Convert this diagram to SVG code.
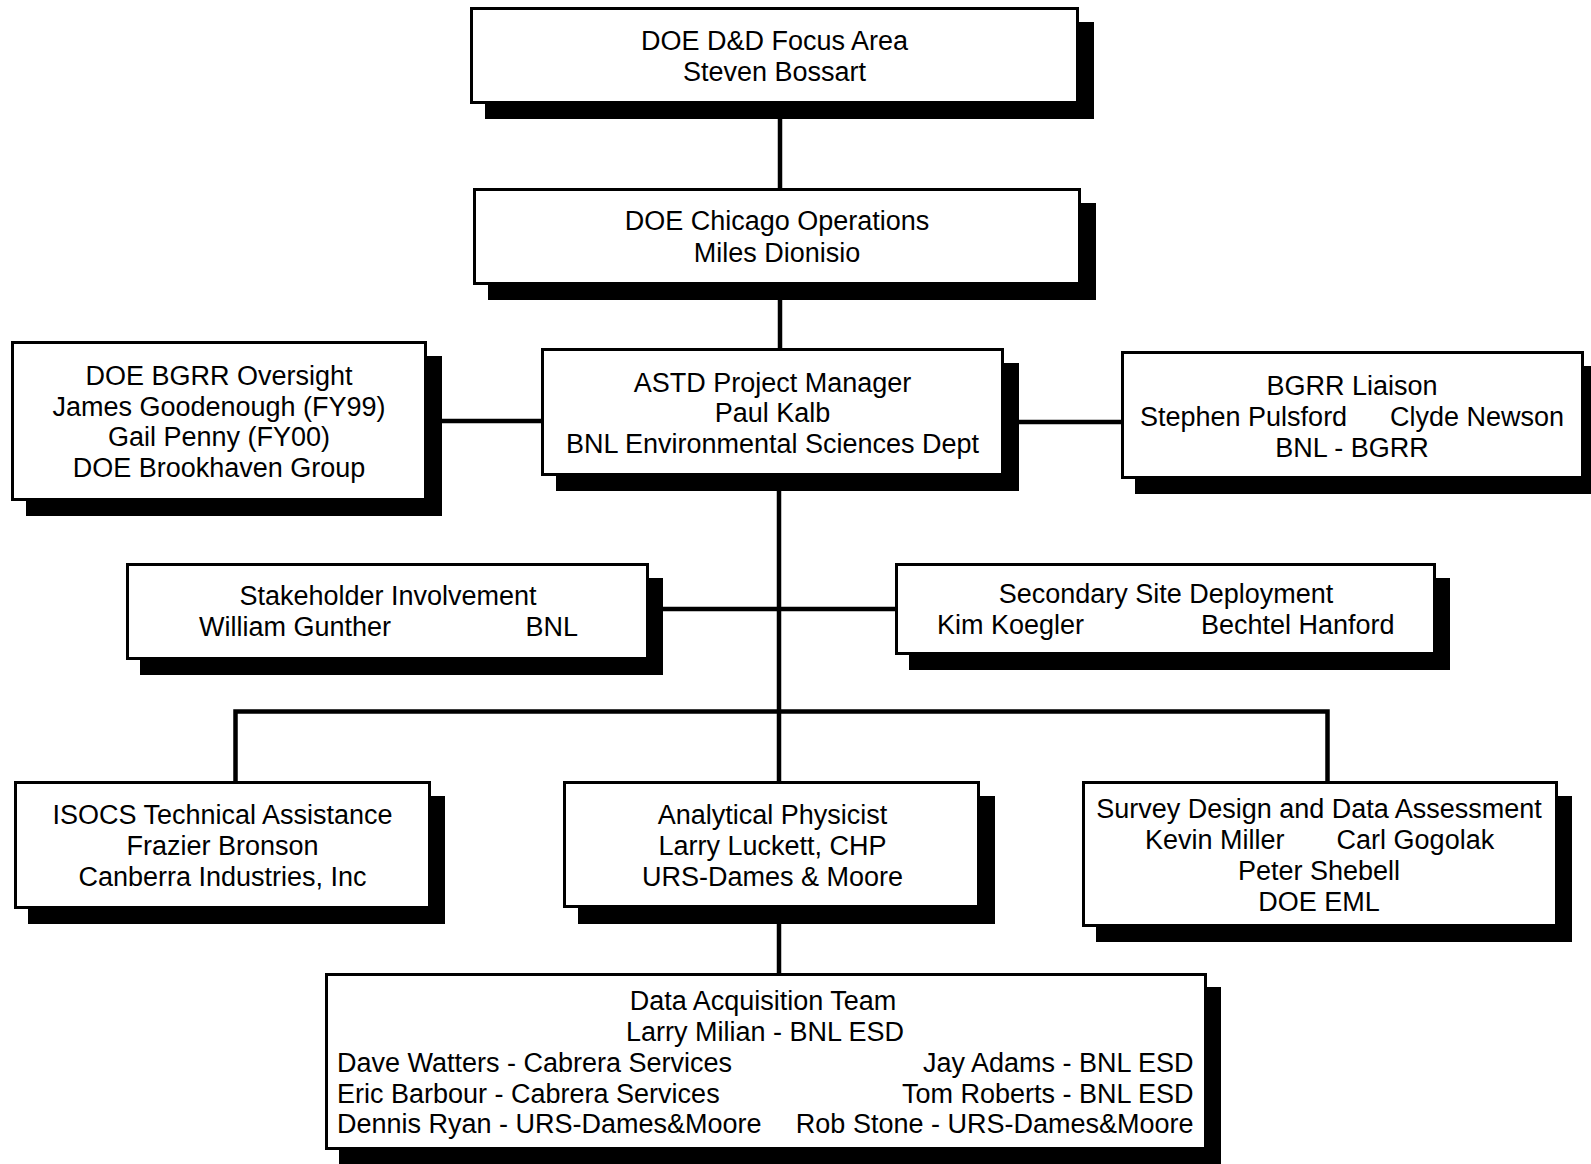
<svg xmlns="http://www.w3.org/2000/svg" width="1591" height="1164" viewBox="0 0 1591 1164">
<style>
.bg{fill:#ffffff}
.box{fill:#ffffff;stroke:#000000;stroke-width:3}
.sh{fill:#000000}
.con{stroke:#000000;stroke-width:4.5;fill:none;stroke-linecap:butt}
text{font-family:"Liberation Sans",Arial,Helvetica,sans-serif;font-size:27px;fill:#000000}
.c{text-anchor:middle}
.e{text-anchor:end}
</style>
<rect class="bg" x="0" y="0" width="1591" height="1164"/>
<g id="connectors">
<line class="con" x1="780" y1="104" x2="780" y2="188"/>
<line class="con" x1="780" y1="285" x2="780" y2="348"/>
<line class="con" x1="427" y1="421" x2="541" y2="421"/>
<line class="con" x1="1004" y1="422" x2="1121" y2="422"/>
<line class="con" x1="779" y1="476" x2="779" y2="781"/>
<line class="con" x1="649" y1="609" x2="900" y2="609"/>
<polyline class="con" points="235.5,781 235.5,711.5 1327.5,711.5 1327.5,781"/>
<line class="con" x1="779" y1="908" x2="779" y2="973"/>
</g>
<g id="dd-focus">
<rect class="sh" x="485" y="22" width="609" height="97"/>
<rect class="box" x="471.5" y="8.5" width="606" height="94"/>
<text class="c" x="774.5" y="50">DOE D&amp;D Focus Area</text>
<text class="c" x="774.5" y="81">Steven Bossart</text>
</g>
<g id="chicago">
<rect class="sh" x="488" y="203" width="608" height="97"/>
<rect class="box" x="474.5" y="189.5" width="605" height="94"/>
<text class="c" x="777" y="230">DOE Chicago Operations</text>
<text class="c" x="777" y="261.5">Miles Dionisio</text>
</g>
<g id="astd">
<rect class="sh" x="556" y="363" width="463" height="128"/>
<rect class="box" x="542.5" y="349.5" width="460" height="125"/>
<text class="c" x="772.5" y="391.7">ASTD Project Manager</text>
<text class="c" x="772.5" y="422">Paul Kalb</text>
<text class="c" x="772.5" y="453">BNL Environmental Sciences Dept</text>
</g>
<g id="doe-bgrr">
<rect class="sh" x="26" y="356" width="416" height="160"/>
<rect class="box" x="12.5" y="342.5" width="413" height="157"/>
<text class="c" x="219" y="384.5">DOE BGRR Oversight</text>
<text class="c" x="219" y="415.5">James Goodenough (FY99)</text>
<text class="c" x="219" y="446">Gail Penny (FY00)</text>
<text class="c" x="219" y="477">DOE Brookhaven Group</text>
</g>
<g id="bgrr-liaison">
<rect class="sh" x="1135" y="366" width="463" height="128"/>
<rect class="box" x="1122.5" y="352.5" width="460" height="125"/>
<text class="c" x="1352" y="395">BGRR Liaison</text>
<text x="1140" y="426">Stephen Pulsford</text>
<text x="1390" y="426">Clyde Newson</text>
<text class="c" x="1352" y="456.7">BNL - BGRR</text>
</g>
<g id="stakeholder">
<rect class="sh" x="140" y="578" width="523" height="97"/>
<rect class="box" x="127.5" y="564.5" width="520" height="94"/>
<text class="c" x="388" y="605">Stakeholder Involvement</text>
<text x="199" y="636">William Gunther</text>
<text x="525.5" y="636">BNL</text>
</g>
<g id="secondary">
<rect class="sh" x="909" y="578" width="541" height="92"/>
<rect class="box" x="896.5" y="564.5" width="538" height="89"/>
<text class="c" x="1166" y="603.3">Secondary Site Deployment</text>
<text x="937" y="634">Kim Koegler</text>
<text x="1201" y="634">Bechtel Hanford</text>
</g>
<g id="isocs">
<rect class="sh" x="28" y="796" width="417" height="128"/>
<rect class="box" x="15.5" y="782.5" width="414" height="125"/>
<text class="c" x="222.5" y="824">ISOCS Technical Assistance</text>
<text class="c" x="222.5" y="855">Frazier Bronson</text>
<text class="c" x="222.5" y="886">Canberra Industries, Inc</text>
</g>
<g id="analytical">
<rect class="sh" x="578" y="796" width="417" height="128"/>
<rect class="box" x="564.5" y="782.5" width="414" height="124"/>
<text class="c" x="772.5" y="824">Analytical Physicist</text>
<text class="c" x="772.5" y="855">Larry Luckett, CHP</text>
<text class="c" x="772.5" y="886">URS-Dames &amp; Moore</text>
</g>
<g id="survey">
<rect class="sh" x="1096" y="796" width="476" height="146"/>
<rect class="box" x="1083.5" y="782.5" width="473" height="143"/>
<text class="c" x="1319" y="818.3">Survey Design and Data Assessment</text>
<text x="1145" y="849.3">Kevin Miller</text>
<text x="1336.6" y="849.3">Carl Gogolak</text>
<text class="c" x="1319" y="880">Peter Shebell</text>
<text class="c" x="1319" y="910.7">DOE EML</text>
</g>
<g id="data-acq">
<rect class="sh" x="339" y="987" width="882" height="177"/>
<rect class="box" x="326.5" y="974.5" width="879" height="174"/>
<text class="c" x="763" y="1010">Data Acquisition Team</text>
<text class="c" x="765" y="1040.7">Larry Milian - BNL ESD</text>
<text x="337" y="1071.7">Dave Watters - Cabrera Services</text>
<text x="337" y="1102.7">Eric Barbour - Cabrera Services</text>
<text x="337" y="1133.3">Dennis Ryan - URS-Dames&amp;Moore</text>
<text class="e" x="1193.5" y="1071.7">Jay Adams - BNL ESD</text>
<text class="e" x="1193.5" y="1102.7">Tom Roberts - BNL ESD</text>
<text class="e" x="1193.5" y="1133.3">Rob Stone - URS-Dames&amp;Moore</text>
</g>
</svg>
